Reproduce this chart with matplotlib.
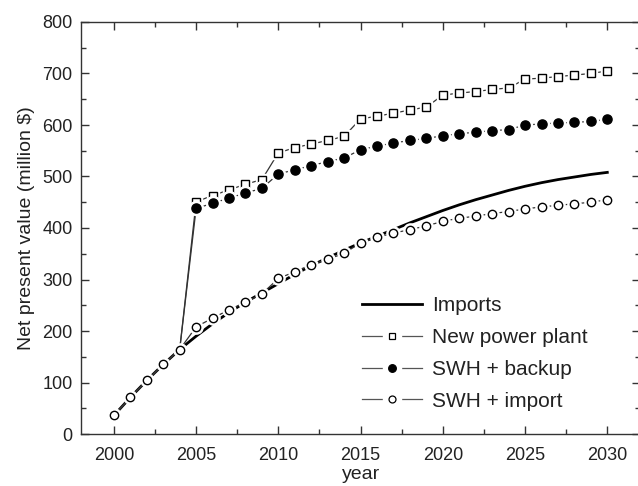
import matplotlib
matplotlib.use("Agg")
import matplotlib.pyplot as plt
from matplotlib.lines import Line2D
from matplotlib.ticker import MultipleLocator

plt.rcParams["font.family"] = ["Liberation Sans", "DejaVu Sans"]

YEARS = list(range(2000, 2031))

IMPORTS = [36, 71, 104, 135, 164, 190, 214, 236, 256, 274, 292, 310, 327, 342, 357,
           371, 384, 397, 410, 422, 434, 445, 455, 464, 473, 481, 488, 494, 499, 504, 508]

NEW_PLANT = [36, 71, 104, 135, 164, 451, 463, 474, 485, 494, 546, 556, 563, 570, 578,
             612, 617, 623, 629, 635, 658, 662, 665, 669, 672, 689, 691, 694, 697, 700, 705]

SWH_BACKUP = [36, 71, 104, 135, 164, 438, 448, 458, 468, 477, 505, 513, 521, 529, 536,
              552, 559, 565, 570, 574, 579, 583, 586, 589, 591, 600, 602, 604, 605, 607, 611]

SWH_IMPORT = [36, 71, 104, 135, 164, 208, 225, 241, 256, 272, 302, 315, 329, 339, 351,
              371, 382, 390, 397, 404, 413, 419, 423, 428, 432, 437, 441, 444, 447, 450, 455]

LABELS = ["Imports", "New power plant", "SWH + backup", "SWH + import"]

LINE_COL = "#333333"
TEXT_COL = "#222222"


def draw_series(ax, y, marker, face, size, z, first=0):
    # thin connecting line, white halo to open a gap round each symbol, then the symbol
    ax.plot(YEARS, y, color=LINE_COL, lw=0.9, zorder=z)
    ax.plot(YEARS[first:], y[first:], ls="none", marker=marker, ms=size + 3.5,
            mfc="white", mec="white", zorder=z + 0.1)
    ax.plot(YEARS[first:], y[first:], ls="none", marker=marker, ms=size,
            mfc=face, mec="black", mew=1.0, zorder=z + 0.2)


def legend_handle(marker, face, size):
    return (Line2D([], [], color="#555555", lw=0.9),
            Line2D([], [], ls="none", marker=marker, ms=13, mfc="white", mec="white"),
            Line2D([], [], ls="none", marker=marker, ms=size, mfc=face, mec="black", mew=0.9))


fig = plt.figure(figsize=(6.38, 4.86), dpi=100)
ax = fig.add_axes([81 / 638, 52 / 486, 559.2 / 638, 412 / 486])

ax.plot(YEARS, IMPORTS, color="black", lw=2.0, zorder=2)
draw_series(ax, NEW_PLANT, "s", "white", 5.8, 3, first=5)
draw_series(ax, SWH_BACKUP, "o", "black", 6.6, 4, first=5)
draw_series(ax, SWH_IMPORT, "o", "white", 6.0, 5)

ax.set_xlim(1998, 2032)
ax.set_ylim(0, 800)
ax.xaxis.set_major_locator(MultipleLocator(5))
ax.xaxis.set_minor_locator(MultipleLocator(2.5))
ax.yaxis.set_major_locator(MultipleLocator(100))
ax.yaxis.set_minor_locator(MultipleLocator(50))
ax.tick_params(which="both", direction="in", top=True, right=True, color=LINE_COL,
               labelcolor=TEXT_COL, labelsize=13)
ax.tick_params(which="major", length=6, width=1.0)
ax.tick_params(which="minor", length=3.5, width=1.0)
ax.tick_params(axis="x", pad=9)
ax.tick_params(axis="y", pad=6)
for sp in ax.spines.values():
    sp.set_color(LINE_COL)
    sp.set_linewidth(1.0)

ax.set_xlabel("year", fontsize=14, color=TEXT_COL, labelpad=2)
ax.set_ylabel("Net present value (million $)", fontsize=14, color=TEXT_COL, labelpad=5)

handles = [Line2D([], [], color="black", lw=2.0),
           legend_handle("s", "white", 5.0),
           legend_handle("o", "black", 5.5),
           legend_handle("o", "white", 5.0)]
ax.legend(handles, LABELS, loc="upper left", bbox_to_anchor=(0.5025, 0.335),
          frameon=False, fontsize=15, handlelength=2.9, handletextpad=0.45,
          labelspacing=0.62, borderpad=0, borderaxespad=0, labelcolor=TEXT_COL)

fig.savefig("out.png", dpi=100)
